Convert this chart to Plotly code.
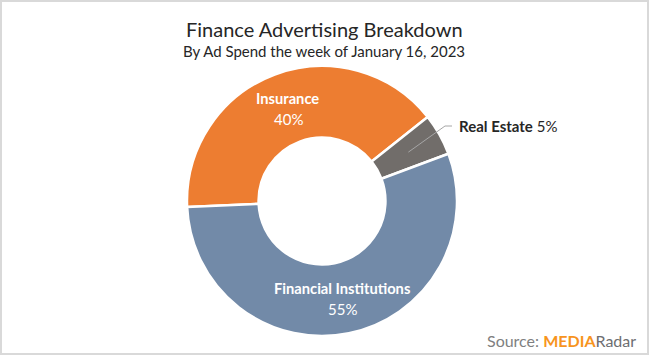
import math
import plotly.graph_objects as go

# ---- data ----
categories = ["Insurance", "Real Estate", "Financial Institutions"]
values = [40, 5, 55]
slice_colors = ["#ED7D31", "#716D6A", "#728AA8"]
title_text = "Finance Advertising Breakdown"
subtitle_text = "By Ad Spend the week of January 16, 2023"

W, H = 649, 355
CX, CY, R = 322, 201, 135   # pie centre / radius in pixels
HOLE = 0.47
ROTATION = 267.5

def px(x):
    return x / W

def py(y):
    return 1 - y / H

total = sum(values)

fig = go.Figure(go.Pie(
    labels=categories,
    values=values,
    sort=False,
    direction="clockwise",
    rotation=ROTATION,
    hole=HOLE,
    marker=dict(colors=slice_colors, line=dict(color="white", width=2.5)),
    textinfo="none",
    domain=dict(x=[px(CX - R), px(CX + R)], y=[py(CY + R), py(CY - R)]),
    showlegend=False,
    hoverinfo="label+percent",
))

# mid-angle of each slice, derived from the data
rin = (HOLE + 1) / 2 * R
cum = 0
mids = {}
for c, v in zip(categories, values):
    mid_compass = ROTATION + 360 * (cum + v / 2) / total
    a = math.radians(90 - mid_compass)
    mids[c] = (CX + rin * math.cos(a), CY - rin * math.sin(a))
    cum += v

for c, v in zip(categories, values):
    pct = f"{round(100 * v / total)}%"
    if c == "Real Estate":
        sx, sy = mids[c]
        lab_y = 126
        elbow_x = 445
        fig.add_shape(type="path", xref="paper", yref="paper",
                      path=f"M {px(sx)} {py(sy)} L {px(elbow_x)} {py(lab_y)} L {px(elbow_x + 7)} {py(lab_y)}",
                      line=dict(color="#A6A6A6", width=1))
        fig.add_annotation(x=px(457), y=py(lab_y), xref="paper", yref="paper",
                           xanchor="left", yanchor="middle", showarrow=False,
                           text=f"<b>{c}</b> {pct}",
                           font=dict(family="Lato", size=15, color="#262626"))
    else:
        mx, my = mids[c]
        fig.add_annotation(x=px(mx), y=py(my - 10), xref="paper", yref="paper",
                           xanchor="center", yanchor="middle", showarrow=False,
                           text=f"<b>{c}</b>",
                           font=dict(family="Lato", size=14.7, color="white"))
        fig.add_annotation(x=px(mx + 1), y=py(my + 11), xref="paper", yref="paper",
                           xanchor="center", yanchor="middle", showarrow=False,
                           text=pct,
                           font=dict(family="Lato", size=15, color="white"))

# Titles
fig.add_annotation(x=px(324), y=py(29), xref="paper", yref="paper",
                   xanchor="center", yanchor="middle", showarrow=False,
                   text=title_text, font=dict(family="Lato", size=20, color="#262626"))
fig.add_annotation(x=px(324), y=py(51), xref="paper", yref="paper",
                   xanchor="center", yanchor="middle", showarrow=False,
                   text=subtitle_text, font=dict(family="Lato", size=15, color="#262626"))

# Source logo
fig.add_annotation(x=px(638), y=py(340), xref="paper", yref="paper",
                   xanchor="right", yanchor="middle", showarrow=False,
                   text="Source: <span style='color:#F7941D'><b>MEDIA</b></span>"
                        "<span style='color:#6D6E71'>Radar</span>",
                   font=dict(family="Lato", size=16, color="#7F7F7F"))

# Frame
fig.add_shape(type="rect", xref="paper", yref="paper",
              x0=px(1), x1=px(W - 1), y0=py(H - 1), y1=py(1),
              line=dict(color="#D9D9D9", width=2))

fig.update_layout(
    width=W, height=H,
    margin=dict(l=0, r=0, t=0, b=0),
    paper_bgcolor="white",
    plot_bgcolor="white",
)

fig.write_html("out.html")
